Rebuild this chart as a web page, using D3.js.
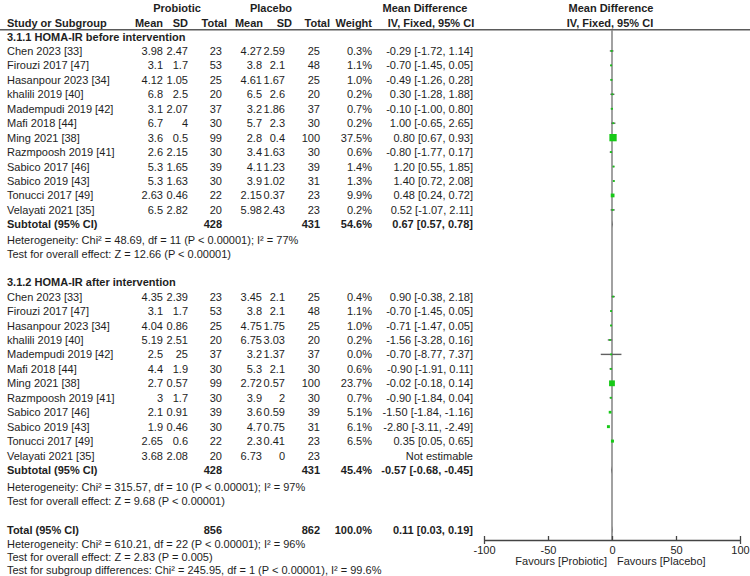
<!DOCTYPE html>
<html>
<head>
<meta charset="utf-8">
<script src="https://cdn.jsdelivr.net/npm/d3@7"></script>
<style>
  html, body { margin: 0; padding: 0; background: #fff; }
  svg text { font-family: "Liberation Sans", Arial, sans-serif; font-size: 11px; fill: #1e1e1e; }
</style>
</head>
<body>
<svg id="chart" width="750" height="576"></svg>
<script>
// ---------------- DATA ----------------
const groupTitles = ["3.1.1 HOMA-IR before intervention", "3.1.2 HOMA-IR after intervention"];
const studyNames = ["Chen 2023 [33]", "Firouzi 2017 [47]", "Hasanpour 2023 [34]", "khalili 2019 [40]",
  "Madempudi 2019 [42]", "Mafi 2018 [44]", "Ming 2021 [38]", "Razmpoosh 2019 [41]",
  "Sabico 2017 [46]", "Sabico 2019 [43]", "Tonucci 2017 [49]", "Velayati 2021 [35]"];

// Group 1: before intervention
const probMean1 = [3.98, 3.1, 4.12, 6.8, 3.1, 6.7, 3.6, 2.6, 5.3, 5.3, 2.63, 6.5];
const probSD1   = [2.47, 1.7, 1.05, 2.5, 2.07, 4, 0.5, 2.15, 1.65, 1.63, 0.46, 2.82];
const probN1    = [23, 53, 25, 20, 37, 30, 99, 30, 39, 30, 22, 20];
const placMean1 = [4.27, 3.8, 4.61, 6.5, 3.2, 5.7, 2.8, 3.4, 4.1, 3.9, 2.15, 5.98];
const placSD1   = [2.59, 2.1, 1.67, 2.6, 1.86, 2.3, 0.4, 1.63, 1.23, 1.02, 0.37, 2.43];
const placN1    = [25, 48, 25, 20, 37, 30, 100, 30, 39, 31, 23, 23];
const weight1   = [0.3, 1.1, 1.0, 0.2, 0.7, 0.2, 37.5, 0.6, 1.4, 1.3, 9.9, 0.2];
const md1       = [-0.29, -0.70, -0.49, 0.30, -0.10, 1.00, 0.80, -0.80, 1.20, 1.40, 0.48, 0.52];
const lo1       = [-1.72, -1.45, -1.26, -1.28, -1.00, -0.65, 0.67, -1.77, 0.55, 0.72, 0.24, -1.07];
const hi1       = [1.14, 0.05, 0.28, 1.88, 0.80, 2.65, 0.93, 0.17, 1.85, 2.08, 0.72, 2.11];

// Group 2: after intervention
const probMean2 = [4.35, 3.1, 4.04, 5.19, 2.5, 4.4, 2.7, 3, 2.1, 1.9, 2.65, 3.68];
const probSD2   = [2.39, 1.7, 0.86, 2.51, 25, 1.9, 0.57, 1.7, 0.91, 0.46, 0.6, 2.08];
const probN2    = [23, 53, 25, 20, 37, 30, 99, 30, 39, 30, 22, 20];
const placMean2 = [3.45, 3.8, 4.75, 6.75, 3.2, 5.3, 2.72, 3.9, 3.6, 4.7, 2.3, 6.73];
const placSD2   = [2.1, 2.1, 1.75, 3.03, 1.37, 2.1, 0.57, 2, 0.59, 0.75, 0.41, 0];
const placN2    = [25, 48, 25, 20, 37, 30, 100, 30, 39, 31, 23, 23];
const weight2   = [0.4, 1.1, 1.0, 0.2, 0.0, 0.6, 23.7, 0.7, 5.1, 6.1, 6.5, null];
const md2       = [0.90, -0.70, -0.71, -1.56, -0.70, -0.90, -0.02, -0.90, -1.50, -2.80, 0.35, null];
const lo2       = [-0.38, -1.45, -1.47, -3.28, -8.77, -1.91, -0.18, -1.84, -1.84, -3.11, 0.05, null];
const hi2       = [2.18, 0.05, 0.05, 0.16, 7.37, 0.11, 0.14, 0.04, -1.16, -2.49, 0.65, null];

// Subtotals and total
const subN_prob   = [428, 428];
const subN_plac   = [431, 431];
const subWeight   = [54.6, 45.4];
const subMD       = [0.67, -0.57];
const subLo       = [0.57, -0.68];
const subHi       = [0.78, -0.45];
const totalN      = [856, 862];
const totalEffect = [0.11, 0.03, 0.19];

const hetTexts = [
  ["Heterogeneity: Chi\u00B2 = 48.69, df = 11 (P < 0.00001); I\u00B2 = 77%", "Test for overall effect: Z = 12.66 (P < 0.00001)"],
  ["Heterogeneity: Chi\u00B2 = 315.57, df = 10 (P < 0.00001); I\u00B2 = 97%", "Test for overall effect: Z = 9.68 (P < 0.00001)"]
];
const totalTexts = [
  "Heterogeneity: Chi\u00B2 = 610.21, df = 22 (P < 0.00001); I\u00B2 = 96%",
  "Test for overall effect: Z = 2.83 (P = 0.005)",
  "Test for subgroup differences: Chi\u00B2 = 245.95, df = 1 (P < 0.00001), I\u00B2 = 99.6%"
];
const axisTicks = [-100, -50, 0, 50, 100];
const favourLabels = ["Favours [Probiotic]", "Favours [Placebo]"];

// ---------------- DRAW ----------------
const svg = d3.select("#chart");
const x = d3.scaleLinear().domain([-100, 100]).range([484, 740]);
const rowY = d3.scaleLinear().domain([0, 1]).range([40.5, 54.95]); // baseline of row index
const fmtMD = (m, l, h) => `${m.toFixed(2)} [${l.toFixed(2)}, ${h.toFixed(2)}]`;

const col = { pMean: 163, pSD: 188, pN: 222, cMean: 262, cSD: 285, cN: 320, w: 372, md: 473 };

function txt(xp, yp, s, anchor = "start", bold = false) {
  svg.append("text").attr("x", xp).attr("y", yp).attr("text-anchor", anchor)
    .style("font-weight", bold ? "bold" : "normal").text(s);
}

// Headers
txt(177, 11.5, "Probiotic", "middle", true);
txt(271, 11.5, "Placebo", "middle", true);
txt(425, 11.5, "Mean Difference", "middle", true);
txt(611, 11.5, "Mean Difference", "middle", true);
txt(7, 27, "Study or Subgroup", "start", true);
txt(163, 27, "Mean", "end", true);
txt(188, 27, "SD", "end", true);
txt(227, 27, "Total", "end", true);
txt(263, 27, "Mean", "end", true);
txt(292, 27, "SD", "end", true);
txt(330, 27, "Total", "end", true);
txt(372, 27, "Weight", "end", true);
txt(431, 27, "IV, Fixed, 95% CI", "middle", true);
txt(610, 27, "IV, Fixed, 95% CI", "middle", true);

svg.append("line").attr("x1", 0).attr("x2", 750).attr("y1", 29.75).attr("y2", 29.75)
  .attr("stroke", "#5a5a5a").attr("stroke-width", 1.5);

// zero line
svg.append("line").attr("x1", x(0)).attr("x2", x(0)).attr("y1", 30).attr("y2", 540)
  .attr("stroke", "#8a8a8a").attr("stroke-width", 1.6);

const sq = d3.scaleSqrt().domain([0, 37.5]).range([0, 7.3]);

const groupsData = [
  { pm: probMean1, ps: probSD1, pn: probN1, cm: placMean1, cs: placSD1, cn: placN1, w: weight1, md: md1, lo: lo1, hi: hi1 },
  { pm: probMean2, ps: probSD2, pn: probN2, cm: placMean2, cs: placSD2, cn: placN2, w: weight2, md: md2, lo: lo2, hi: hi2 }
];
const hetOffset = [1, 2.5];

groupsData.forEach((g, gi) => {
  const base = gi * 17;
  txt(7, rowY(base), groupTitles[gi], "start", true);
  studyNames.forEach((name, i) => {
    const y = rowY(base + 1 + i);
    txt(7, y, name);
    txt(col.pMean, y, String(g.pm[i]), "end");
    txt(col.pSD, y, String(g.ps[i]), "end");
    txt(col.pN, y, String(g.pn[i]), "end");
    txt(col.cMean, y, String(g.cm[i]), "end");
    txt(col.cSD, y, String(g.cs[i]), "end");
    txt(col.cN, y, String(g.cn[i]), "end");
    if (g.w[i] !== null) txt(col.w, y, g.w[i].toFixed(1) + "%", "end");
    if (g.md[i] !== null) {
      txt(col.md, y, fmtMD(g.md[i], g.lo[i], g.hi[i]), "end");
      const cy = y - 4;
      svg.append("line").attr("x1", x(g.lo[i])).attr("x2", x(g.hi[i]))
        .attr("y1", cy).attr("y2", cy).attr("stroke", "#606060").attr("stroke-width", 1.4);
      const s = Math.max(sq(g.w[i]), 1.8);
      svg.append("rect").attr("x", x(g.md[i]) - s / 2).attr("y", cy - Math.max(s, 1.6) / 2)
        .attr("width", s).attr("height", Math.max(s, 1.6)).attr("fill", "#17c917");
    } else {
      txt(col.md, y, "Not estimable", "end");
    }
  });
  const ys = rowY(base + 13);
  txt(7, ys, "Subtotal (95% CI)", "start", true);
  txt(col.pN, ys, String(subN_prob[gi]), "end", true);
  txt(col.cN, ys, String(subN_plac[gi]), "end", true);
  txt(col.w, ys, subWeight[gi].toFixed(1) + "%", "end", true);
  txt(col.md, ys, fmtMD(subMD[gi], subLo[gi], subHi[gi]), "end", true);
  const dy = ys - 4;
  svg.append("polygon").attr("points",
    [[x(subLo[gi]), dy], [x(subMD[gi]), dy - 4], [x(subHi[gi]), dy], [x(subMD[gi]), dy + 4]].join(" "))
    .attr("fill", "#000");
  txt(7, rowY(base + 14) + hetOffset[gi], hetTexts[gi][0]);
  txt(7, rowY(base + 15) + hetOffset[gi], hetTexts[gi][1]);
});

// Total
const yt = rowY(34) + 2;
txt(7, yt, "Total (95% CI)", "start", true);
txt(col.pN, yt, String(totalN[0]), "end", true);
txt(col.cN, yt, String(totalN[1]), "end", true);
txt(col.w, yt, "100.0%", "end", true);
txt(col.md, yt, fmtMD(totalEffect[0], totalEffect[1], totalEffect[2]), "end", true);
svg.append("polygon").attr("points",
  [[x(totalEffect[1]), yt - 4], [x(totalEffect[0]), yt - 8], [x(totalEffect[2]), yt - 4], [x(totalEffect[0]), yt]].join(" "))
  .attr("fill", "#000");
const footBase = [547.8, 560.8, 573.6];
totalTexts.forEach((t, i) => txt(7, footBase[i], t));

// Axis
const axis = d3.axisBottom(x).tickValues(axisTicks).tickSizeInner(-4).tickSizeOuter(4).tickPadding(6)
  .tickFormat(d => String(d));
const ag = svg.append("g").attr("transform", "translate(0,540)").call(axis);
ag.select(".domain").attr("stroke", "#444").attr("stroke-width", 1.3);
ag.selectAll(".tick line").attr("stroke", "#444").attr("stroke-width", 1.3);
ag.selectAll(".tick text").attr("fill", "#1e1e1e")
  .style("font-family", '"Liberation Sans", Arial, sans-serif').style("font-size", "11px");
ag.attr("font-family", null).attr("font-size", null);

txt(607, 565, favourLabels[0], "end");
txt(617, 565, favourLabels[1], "start");
</script>
</body>
</html>
